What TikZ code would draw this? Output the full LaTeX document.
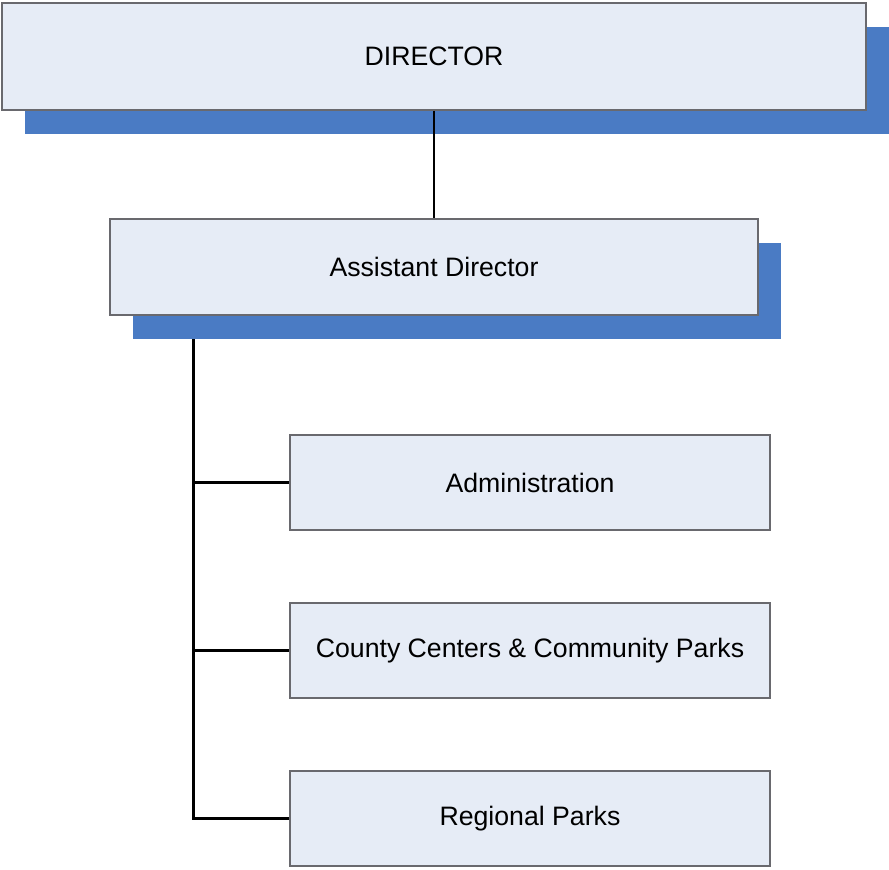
\documentclass[tikz,border=0pt]{standalone}
\usepackage{fontspec}
\setmainfont{Liberation Sans}
\usepackage{xcolor}
\usetikzlibrary{positioning, calc, shadows}
\definecolor{boxfill}{RGB}{230,236,246}
\definecolor{boxline}{RGB}{105,105,110}
\definecolor{shadeblue}{RGB}{74,123,196}

\begin{document}
\begin{tikzpicture}[
  x=0.75pt, y=-0.75pt,
  box/.style={rectangle, draw=boxline, line width=1.1pt, fill=boxfill, inner sep=0pt, minimum height=71.5pt, align=center, font=\fontsize{20}{24}\selectfont},
  shadebox/.style={box, drop shadow={shadow xshift=17.5pt, shadow yshift=-18pt, fill=shadeblue, opacity=1}},
  link/.style={line width=1.6pt, black}
]
\useasboundingbox (0,0) rectangle (889,869);
\node[shadebox, minimum width=648pt, minimum height=80.5pt] (director) at (434,56.5) {DIRECTOR};
\node[shadebox, minimum width=486pt, minimum height=72pt] (assistant) at (434,267) {Assistant Director};
\node[box, minimum width=360pt] (admin) at (530,482.5) {Administration};
\node[box, minimum width=360pt] (county) at (530,650.5) {County Centers \& Community Parks};
\node[box, minimum width=360pt] (regional) at (530,818.5) {Regional Parks};
\coordinate (trunk) at (193.5,339);

\draw[link] (director) -- (assistant);
\draw[link] (trunk) |- (regional.west);
\draw[link] (trunk |- admin.west) -- (admin.west);
\draw[link] (trunk |- county.west) -- (county.west);
\end{tikzpicture}
\end{document}
